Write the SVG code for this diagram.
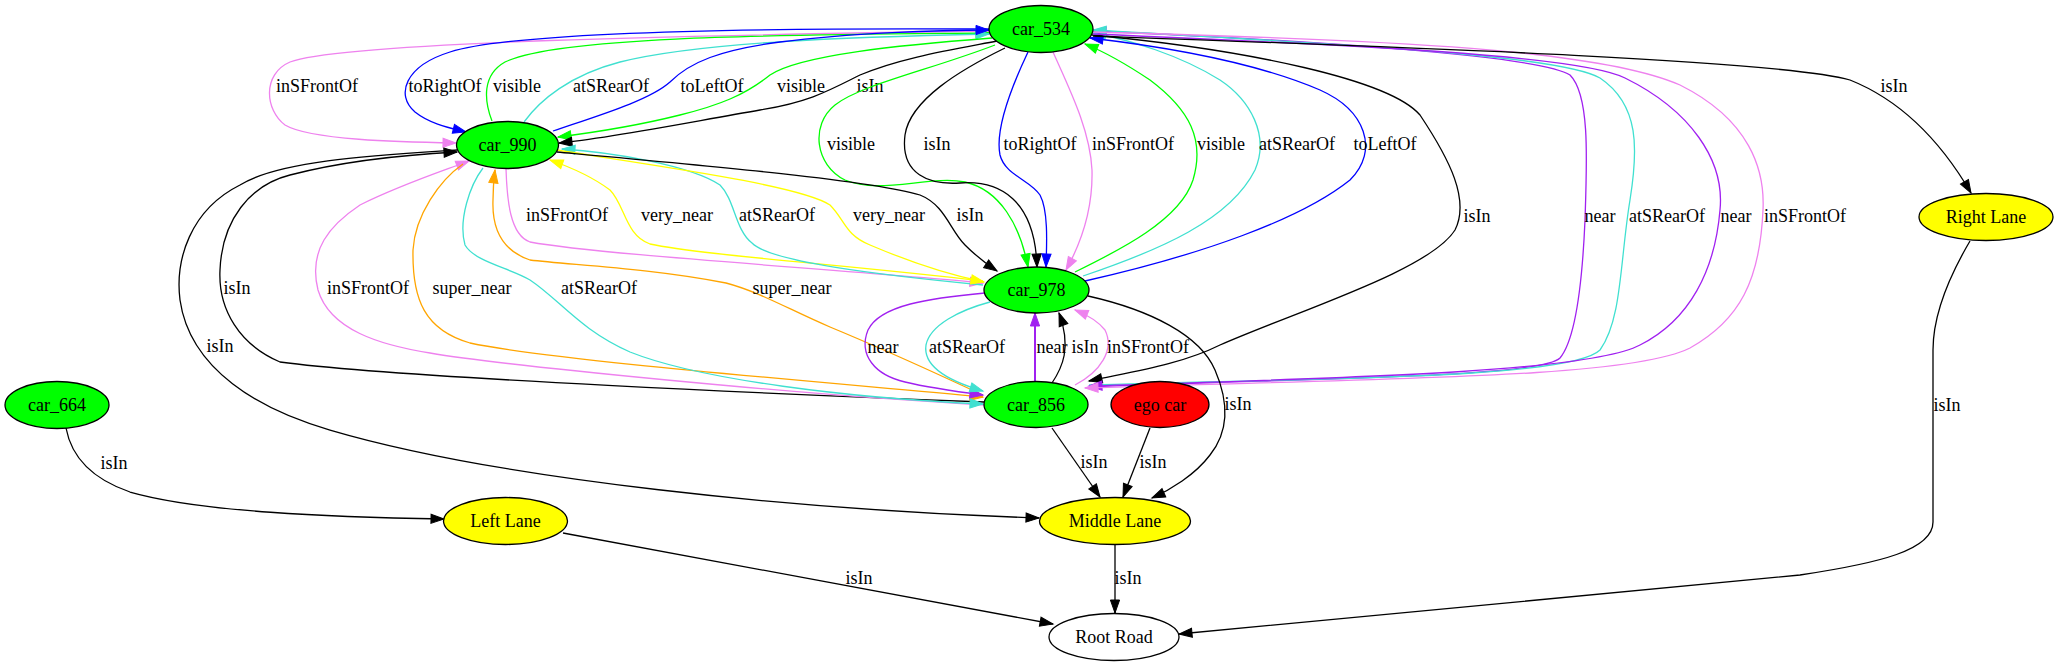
<svg xmlns="http://www.w3.org/2000/svg" width="2059" height="667" viewBox="0 0 2059 667">
<style>
text{font-family:"Liberation Serif","Times New Roman",serif;font-size:18px;fill:#000;text-anchor:middle}
ellipse{stroke:#000;stroke-width:1.3}
.car{fill:#00ff00}.lane{fill:#ffff00}.ego{fill:#ff0000}.road{fill:#fff}
path.e{fill:none;stroke-width:1.3}
.k{stroke:#000;marker-end:url(#ak)}
.b{stroke:#0000ff;marker-end:url(#ab)}
.g{stroke:#00ff00;marker-end:url(#ag)}
.v{stroke:#ee82ee;marker-end:url(#av)}
.c{stroke:#40e0d0;marker-end:url(#ac)}
.p{stroke:#a020f0;marker-end:url(#ap)}
.y{stroke:#ffff00;marker-end:url(#ay)}
.o{stroke:#ffa500;marker-end:url(#ao)}
</style>
<defs>
<marker id="ak" markerWidth="14" markerHeight="10" refX="13" refY="4.6" orient="auto" markerUnits="userSpaceOnUse" style="overflow:visible"><path d="M0,0L13,4.6L0,9.2z" fill="#000" stroke="#000"/></marker>
<marker id="ab" markerWidth="14" markerHeight="10" refX="13" refY="4.6" orient="auto" markerUnits="userSpaceOnUse" style="overflow:visible"><path d="M0,0L13,4.6L0,9.2z" fill="#0000ff" stroke="#0000ff"/></marker>
<marker id="ag" markerWidth="14" markerHeight="10" refX="13" refY="4.6" orient="auto" markerUnits="userSpaceOnUse" style="overflow:visible"><path d="M0,0L13,4.6L0,9.2z" fill="#00ff00" stroke="#00ff00"/></marker>
<marker id="av" markerWidth="14" markerHeight="10" refX="13" refY="4.6" orient="auto" markerUnits="userSpaceOnUse" style="overflow:visible"><path d="M0,0L13,4.6L0,9.2z" fill="#ee82ee" stroke="#ee82ee"/></marker>
<marker id="ac" markerWidth="14" markerHeight="10" refX="13" refY="4.6" orient="auto" markerUnits="userSpaceOnUse" style="overflow:visible"><path d="M0,0L13,4.6L0,9.2z" fill="#40e0d0" stroke="#40e0d0"/></marker>
<marker id="ap" markerWidth="14" markerHeight="10" refX="13" refY="4.6" orient="auto" markerUnits="userSpaceOnUse" style="overflow:visible"><path d="M0,0L13,4.6L0,9.2z" fill="#a020f0" stroke="#a020f0"/></marker>
<marker id="ay" markerWidth="14" markerHeight="10" refX="13" refY="4.6" orient="auto" markerUnits="userSpaceOnUse" style="overflow:visible"><path d="M0,0L13,4.6L0,9.2z" fill="#ffff00" stroke="#ffff00"/></marker>
<marker id="ao" markerWidth="14" markerHeight="10" refX="13" refY="4.6" orient="auto" markerUnits="userSpaceOnUse" style="overflow:visible"><path d="M0,0L13,4.6L0,9.2z" fill="#ffa500" stroke="#ffa500"/></marker>
</defs>
<rect width="2059" height="667" fill="#fff"/>
<g id="connectors">
<path class="e v" d="M989,31 C700,35 340,42 290,62 C262,74 265,110 285,125 C310,140 400,142 456,143"/>
<path class="e b" d="M989,29 C800,28 520,30 450,52 C405,66 395,95 415,112 C430,124 450,128 466,132"/>
<path class="e g" d="M492,121 C484,100 482,75 505,62 C560,35 800,35 989,33"/>
<path class="e c" d="M524,122 C540,100 570,75 620,62 C700,42 850,37 989,34"/>
<path class="e b" d="M553,131 C600,115 650,100 670,82 C690,62 720,50 780,42 C850,33 940,30 989,30"/>
<path class="e g" d="M992,38 C900,45 800,55 770,75 C745,95 720,105 680,115 C640,125 590,133 558,137"/>
<path class="e k" d="M997,41 C950,50 900,58 860,75 C830,90 810,102 760,110 C690,122 610,138 559,143"/>
<text x="317" y="92">inSFrontOf</text>
<text x="445" y="92">toRightOf</text>
<text x="517" y="92">visible</text>
<text x="611" y="92">atSRearOf</text>
<text x="712" y="92">toLeftOf</text>
<text x="801" y="92">visible</text>
<text x="870" y="92">isIn</text>
<path class="e g" d="M995,45 C930,70 860,85 835,105 C810,125 815,165 845,180 C880,195 930,175 965,182 C1000,190 1020,225 1028,267"/>
<path class="e k" d="M1005,48 C960,70 910,100 905,135 C900,175 930,185 960,183 C1000,180 1035,200 1037,267"/>
<path class="e b" d="M1028,52 C1010,90 995,130 1000,155 C1005,175 1030,180 1040,195 C1048,210 1047,240 1046,267"/>
<path class="e v" d="M1053,52 C1070,90 1090,130 1092,170 C1093,210 1080,245 1066,270"/>
<path class="e g" d="M1075,272 C1120,250 1180,220 1193,180 C1205,140 1190,110 1150,80 C1120,60 1100,50 1085,44"/>
<path class="e c" d="M1083,276 C1160,250 1230,220 1255,170 C1270,135 1250,100 1220,80 C1180,55 1130,40 1093,33"/>
<path class="e b" d="M1085,281 C1200,255 1300,220 1350,180 C1380,150 1365,110 1320,90 C1250,60 1150,45 1090,38"/>
<text x="851" y="150">visible</text>
<text x="937" y="150">isIn</text>
<text x="1040" y="150">toRightOf</text>
<text x="1133" y="150">inSFrontOf</text>
<text x="1221" y="150">visible</text>
<text x="1297" y="150">atSRearOf</text>
<text x="1385" y="150">toLeftOf</text>
<path class="e k" d="M1092,35 C1250,50 1390,80 1420,115 C1450,160 1470,200 1455,230 C1430,270 1300,310 1220,345 C1180,365 1130,372 1089,381"/>
<path class="e p" d="M1089,387 C1300,378 1540,378 1560,358 C1575,340 1582,290 1585,220 C1587,160 1590,95 1570,75 C1540,55 1300,40 1093,31"/>
<path class="e c" d="M1089,385 C1300,378 1570,380 1600,350 C1622,320 1620,260 1630,200 C1638,150 1640,105 1600,78 C1560,55 1350,45 1093,30"/>
<path class="e p" d="M1093,34 C1350,45 1580,55 1625,78 C1690,110 1725,160 1720,210 C1715,270 1690,320 1640,345 C1590,372 1350,378 1089,386"/>
<path class="e v" d="M1093,32 C1400,40 1600,50 1680,85 C1750,120 1765,170 1763,210 C1760,280 1740,320 1690,348 C1630,378 1400,378 1085,388"/>
<text x="1477" y="222">isIn</text>
<text x="1600" y="222">near</text>
<text x="1667" y="222">atSRearOf</text>
<text x="1736" y="222">near</text>
<text x="1805" y="222">inSFrontOf</text>
<path class="e k" d="M1093,36 C1400,47 1780,60 1850,80 C1900,100 1940,140 1971,193"/>
<text x="1894" y="92">isIn</text>
<path class="e v" d="M506,169 C507,200 510,235 530,242 C600,255 850,270 983,283"/>
<path class="e y" d="M983,281 C850,265 700,255 650,244 C625,235 625,205 610,190 C590,175 570,167 550,160"/>
<path class="e c" d="M983,285 C880,275 770,262 752,243 C735,230 735,200 720,185 C690,165 610,152 562,149"/>
<path class="e y" d="M557,150 C650,165 800,185 830,205 C845,220 845,235 870,245 C910,262 950,275 984,282"/>
<path class="e k" d="M557,152 C700,165 870,180 920,195 C945,205 950,230 965,245 C975,255 985,263 997,271"/>
<text x="567" y="221">inSFrontOf</text>
<text x="677" y="221">very_near</text>
<text x="777" y="221">atSRearOf</text>
<text x="889" y="221">very_near</text>
<text x="970" y="221">isIn</text>
<path class="e k" d="M984,402 C800,395 400,378 280,362 C240,345 218,310 220,270 C222,220 250,185 290,175 C340,162 400,155 457,152"/>
<path class="e v" d="M985,405 C800,395 500,365 430,353 C380,345 330,330 318,290 C308,250 330,225 360,205 C400,185 440,172 469,161"/>
<path class="e o" d="M463,164 C440,180 415,215 413,250 C412,300 425,330 470,343 C550,360 800,380 983,397"/>
<path class="e o" d="M983,395 C950,380 900,356 830,327 C790,310 760,292 726,283 C650,268 570,265 530,260 C500,250 492,225 493,200 C493,188 494,178 495,170"/>
<path class="e c" d="M483,168 C470,185 458,220 465,245 C475,262 510,268 530,280 C560,300 580,330 630,352 C700,380 850,398 983,404"/>
<text x="237" y="294">isIn</text>
<text x="368" y="294">inSFrontOf</text>
<text x="472" y="294">super_near</text>
<text x="599" y="294">atSRearOf</text>
<text x="792" y="294">super_near</text>
<path class="e k" d="M457,150 C380,155 280,160 240,185 C190,210 175,260 180,300 C190,370 260,410 330,430 C500,480 800,510 1039,518"/>
<text x="220" y="352">isIn</text>
<path class="e p" d="M985,293 C930,298 880,305 868,330 C858,355 875,375 905,382 C930,388 960,392 983,395"/>
<path class="e c" d="M990,302 C960,310 930,325 926,345 C923,365 945,380 983,391"/>
<path class="e p" style="stroke-width:2" d="M1035,382 L1035,313"/>
<path class="e k" d="M1052,383 C1062,368 1072,348 1059,313"/>
<path class="e v" d="M1075,385 C1100,372 1115,350 1105,330 C1097,320 1085,314 1075,310"/>
<text x="883" y="353">near</text>
<text x="967" y="353">atSRearOf</text>
<text x="1052" y="353">near</text>
<text x="1085" y="353">isIn</text>
<text x="1148" y="353">inSFrontOf</text>
<path class="e k" d="M1088,296 C1150,310 1200,335 1215,370 C1228,400 1230,430 1210,455 C1195,475 1170,490 1152,498"/>
<text x="1238" y="410">isIn</text>
<path class="e k" d="M1052,428 L1100,497"/>
<text x="1094" y="468">isIn</text>
<path class="e k" d="M1150,428 L1123,497"/>
<text x="1153" y="468">isIn</text>
<path class="e k" d="M66,428 C72,460 95,480 130,492 C200,512 330,517 444,519"/>
<text x="114" y="469">isIn</text>
<path class="e k" d="M563,533 L1053,624"/>
<text x="859" y="584">isIn</text>
<path class="e k" d="M1115,544 L1115,613"/>
<text x="1128" y="584">isIn</text>
<path class="e k" d="M1970,241 C1950,275 1933,315 1933,350 L1933,522 C1933,550 1880,563 1800,575 L1179,634"/>
<text x="1947" y="411">isIn</text>
</g>
<g id="car_534"><ellipse class="car" cx="1041" cy="29" rx="52" ry="23.5"/><text x="1041" y="35">car_534</text></g>
<g id="car_990"><ellipse class="car" cx="507.5" cy="145" rx="51" ry="23.5"/><text x="507.5" y="151">car_990</text></g>
<g id="car_978"><ellipse class="car" cx="1036.5" cy="290" rx="52.5" ry="23"/><text x="1036.5" y="296">car_978</text></g>
<g id="car_856"><ellipse class="car" cx="1036" cy="404.5" rx="52" ry="23"/><text x="1036" y="410.5">car_856</text></g>
<g id="ego_car"><ellipse class="ego" cx="1160" cy="404.5" rx="49" ry="23"/><text x="1160" y="410.5">ego car</text></g>
<g id="car_664"><ellipse class="car" cx="57" cy="405" rx="52" ry="23.5"/><text x="57" y="411">car_664</text></g>
<g id="right_lane"><ellipse class="lane" cx="1986" cy="217" rx="67" ry="23.5"/><text x="1986" y="223">Right Lane</text></g>
<g id="left_lane"><ellipse class="lane" cx="505.5" cy="521" rx="62" ry="23.5"/><text x="505.5" y="527">Left Lane</text></g>
<g id="middle_lane"><ellipse class="lane" cx="1115" cy="521" rx="75.5" ry="23.5"/><text x="1115" y="527">Middle Lane</text></g>
<g id="root_road"><ellipse class="road" cx="1114" cy="637" rx="65" ry="23.5"/><text x="1114" y="643">Root Road</text></g>
</svg>
